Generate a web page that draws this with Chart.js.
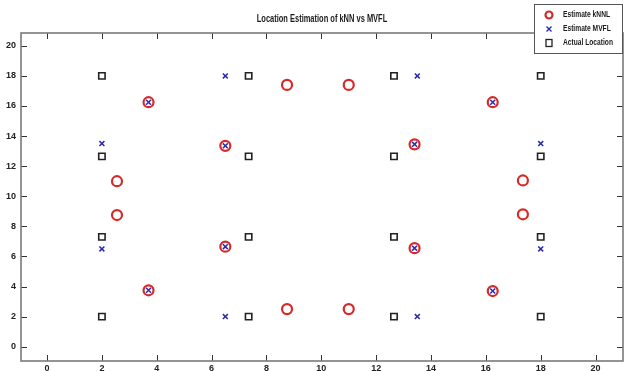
<!DOCTYPE html>
<html>
<head>
<meta charset="utf-8">
<script src="https://cdn.jsdelivr.net/npm/chart.js@4.4.1/dist/chart.umd.min.js"></script>
<style>
  html, body { margin: 0; padding: 0; background: #fff; }
  #wrap { width: 624px; height: 371px; }
</style>
</head>
<body>
<div id="wrap"><canvas id="chart"></canvas></div>
<script>
// Data
const knnX = [3.7, 2.55, 2.55, 3.7, 6.5, 6.5, 8.75, 11.0, 8.75, 11.0, 13.4, 13.4, 16.25, 17.35, 17.35, 16.25];
const knnY = [16.25, 11.0, 8.75, 3.75, 13.35, 6.65, 17.4, 17.4, 2.5, 2.5, 13.45, 6.55, 16.25, 11.05, 8.8, 3.7];

const mvflX = [2, 2, 6.5, 6.5, 13.5, 13.5, 18, 18, 3.7, 6.5, 6.5, 3.7, 13.4, 13.4, 16.25, 16.25];
const mvflY = [13.5, 6.5, 18, 2, 18, 2, 13.5, 6.5, 16.25, 13.35, 6.65, 3.75, 13.45, 6.55, 16.25, 3.7];

const actualX = [2, 2, 2, 2, 7.35, 7.35, 7.35, 7.35, 12.65, 12.65, 12.65, 12.65, 18, 18, 18, 18];
const actualY = [18, 12.65, 7.3, 2, 18, 12.65, 7.3, 2, 18, 12.65, 7.3, 2, 18, 12.65, 7.3, 2];

const xTicks = [0, 2, 4, 6, 8, 10, 12, 14, 16, 18, 20];
const yTicks = [0, 2, 4, 6, 8, 10, 12, 14, 16, 18, 20];

const titleText = 'Location Estimation of kNN vs MVFL';
const seriesNames = ['Estimate kNNL', 'Estimate MVFL', 'Actual Location'];

const baseFont = '"Liberation Sans", Arial, sans-serif';

function toPoints(xs, ys) {
  return xs.map((x, i) => ({ x: x, y: ys[i] }));
}

// draw text squeezed horizontally (the original uses a narrow font)
function narrowText(ctx, text, x, y, squeeze, align) {
  ctx.save();
  ctx.translate(x, y);
  ctx.scale(squeeze, 1);
  ctx.textAlign = align;
  ctx.fillText(text, 0, 0);
  ctx.restore();
}

// Matlab style box with inward tick marks on all four sides
const boxPlugin = {
  id: 'box',
  afterDatasetsDraw(chart) {
    const ctx = chart.ctx;
    const a = chart.chartArea;
    const xs = chart.scales.x;
    const ys = chart.scales.y;
    ctx.save();
    ctx.strokeStyle = '#333';
    ctx.lineWidth = 1;
    ctx.beginPath();
    xTicks.forEach(v => {
      const px = Math.round(xs.getPixelForValue(v)) + 0.5;
      ctx.moveTo(px, a.bottom); ctx.lineTo(px, a.bottom - 6);
      ctx.moveTo(px, a.top); ctx.lineTo(px, a.top + 6);
    });
    yTicks.forEach(v => {
      const py = Math.round(ys.getPixelForValue(v)) + 0.5;
      ctx.moveTo(a.left, py); ctx.lineTo(a.left + 6, py);
      ctx.moveTo(a.right, py); ctx.lineTo(a.right - 6, py);
    });
    ctx.stroke();
    ctx.strokeStyle = '#7a7a7a';
    ctx.lineWidth = 1.6;
    ctx.strokeRect(a.left, a.top, a.right - a.left, a.bottom - a.top);
    ctx.restore();
  }
};

// Title and legend box in the top right corner
const legendPlugin = {
  id: 'cornerLegend',
  afterDraw(chart) {
    const ctx = chart.ctx;
    const a = chart.chartArea;
    ctx.save();
    ctx.fillStyle = '#1a1a1a';
    ctx.font = 'bold 11px ' + baseFont;
    ctx.textBaseline = 'middle';
    narrowText(ctx, titleText, (a.left + a.right) / 2, 19, 0.68, 'center');

    const bx = 534, by = 4, bw = 88, bh = 49;
    ctx.fillStyle = '#fff';
    ctx.fillRect(bx, by, bw, bh);
    ctx.strokeStyle = '#555';
    ctx.lineWidth = 1;
    ctx.strokeRect(bx + 0.5, by + 0.5, bw, bh);
    const rows = [15, 29, 43];
    const mx = 549;
    // circle
    ctx.strokeStyle = '#d42a2a';
    ctx.lineWidth = 2.2;
    ctx.beginPath();
    ctx.arc(mx, rows[0], 3.5, 0, Math.PI * 2);
    ctx.stroke();
    // cross
    ctx.strokeStyle = '#2a2ab0';
    ctx.lineWidth = 1.4;
    ctx.beginPath();
    ctx.moveTo(mx - 2.5, rows[1] - 2.5); ctx.lineTo(mx + 2.5, rows[1] + 2.5);
    ctx.moveTo(mx + 2.5, rows[1] - 2.5); ctx.lineTo(mx - 2.5, rows[1] + 2.5);
    ctx.stroke();
    // square
    ctx.strokeStyle = '#222';
    ctx.lineWidth = 1.3;
    ctx.strokeRect(mx - 3, rows[2] - 3.5, 6, 7);
    ctx.fillStyle = '#1a1a1a';
    ctx.font = 'bold 9px ' + baseFont;
    seriesNames.forEach((name, i) => narrowText(ctx, name, 563, rows[i], 0.74, 'left'));
    ctx.restore();
  }
};

const ctx = document.getElementById('chart').getContext('2d');
new Chart(ctx, {
  type: 'scatter',
  data: {
    datasets: [
      {
        label: seriesNames[0],
        data: toPoints(knnX, knnY),
        pointStyle: 'circle',
        pointRadius: 5,
        pointBorderWidth: 2.2,
        borderColor: '#d42a2a',
        backgroundColor: 'rgba(255,255,255,0)',
        order: 2
      },
      {
        label: seriesNames[1],
        data: toPoints(mvflX, mvflY),
        pointStyle: 'crossRot',
        pointRadius: 3.5,
        pointBorderWidth: 1.5,
        borderColor: '#2a2ab0',
        backgroundColor: '#2a2ab0',
        order: 1
      },
      {
        label: seriesNames[2],
        data: toPoints(actualX, actualY),
        pointStyle: 'rect',
        pointRadius: 4.5,
        pointBorderWidth: 1.6,
        borderColor: '#222',
        backgroundColor: 'rgba(255,255,255,0)',
        order: 3
      }
    ]
  },
  options: {
    responsive: true,
    maintainAspectRatio: false,
    animation: false,
    layout: { autoPadding: false, padding: { left: 0, right: 1, top: 33, bottom: 0 } },
    plugins: {
      legend: { display: false },
      tooltip: { enabled: false },
      title: { display: false }
    },
    scales: {
      x: {
        type: 'linear',
        min: -0.95,
        max: 21.0,
        afterBuildTicks: s => { s.ticks = xTicks.map(v => ({ value: v })); },
        afterFit: s => { s.height = 10; s.paddingLeft = 0; s.paddingRight = 0; },
        grid: { display: false, drawTicks: false },
        border: { display: false },
        ticks: {
          padding: 2,
          color: '#222',
          font: { family: baseFont, size: 9, weight: 'bold' },
          maxRotation: 0,
          autoSkip: false
        }
      },
      y: {
        type: 'linear',
        min: -0.95,
        max: 20.85,
        afterBuildTicks: s => { s.ticks = yTicks.map(v => ({ value: v })); },
        afterFit: s => { s.width = 21; s.paddingTop = 0; s.paddingBottom = 0; },
        grid: { display: false, drawTicks: false },
        border: { display: false },
        ticks: {
          padding: 5,
          color: '#222',
          font: { family: baseFont, size: 9, weight: 'bold' },
          autoSkip: false
        }
      }
    }
  },
  plugins: [boxPlugin, legendPlugin]
});
</script>
</body>
</html>
